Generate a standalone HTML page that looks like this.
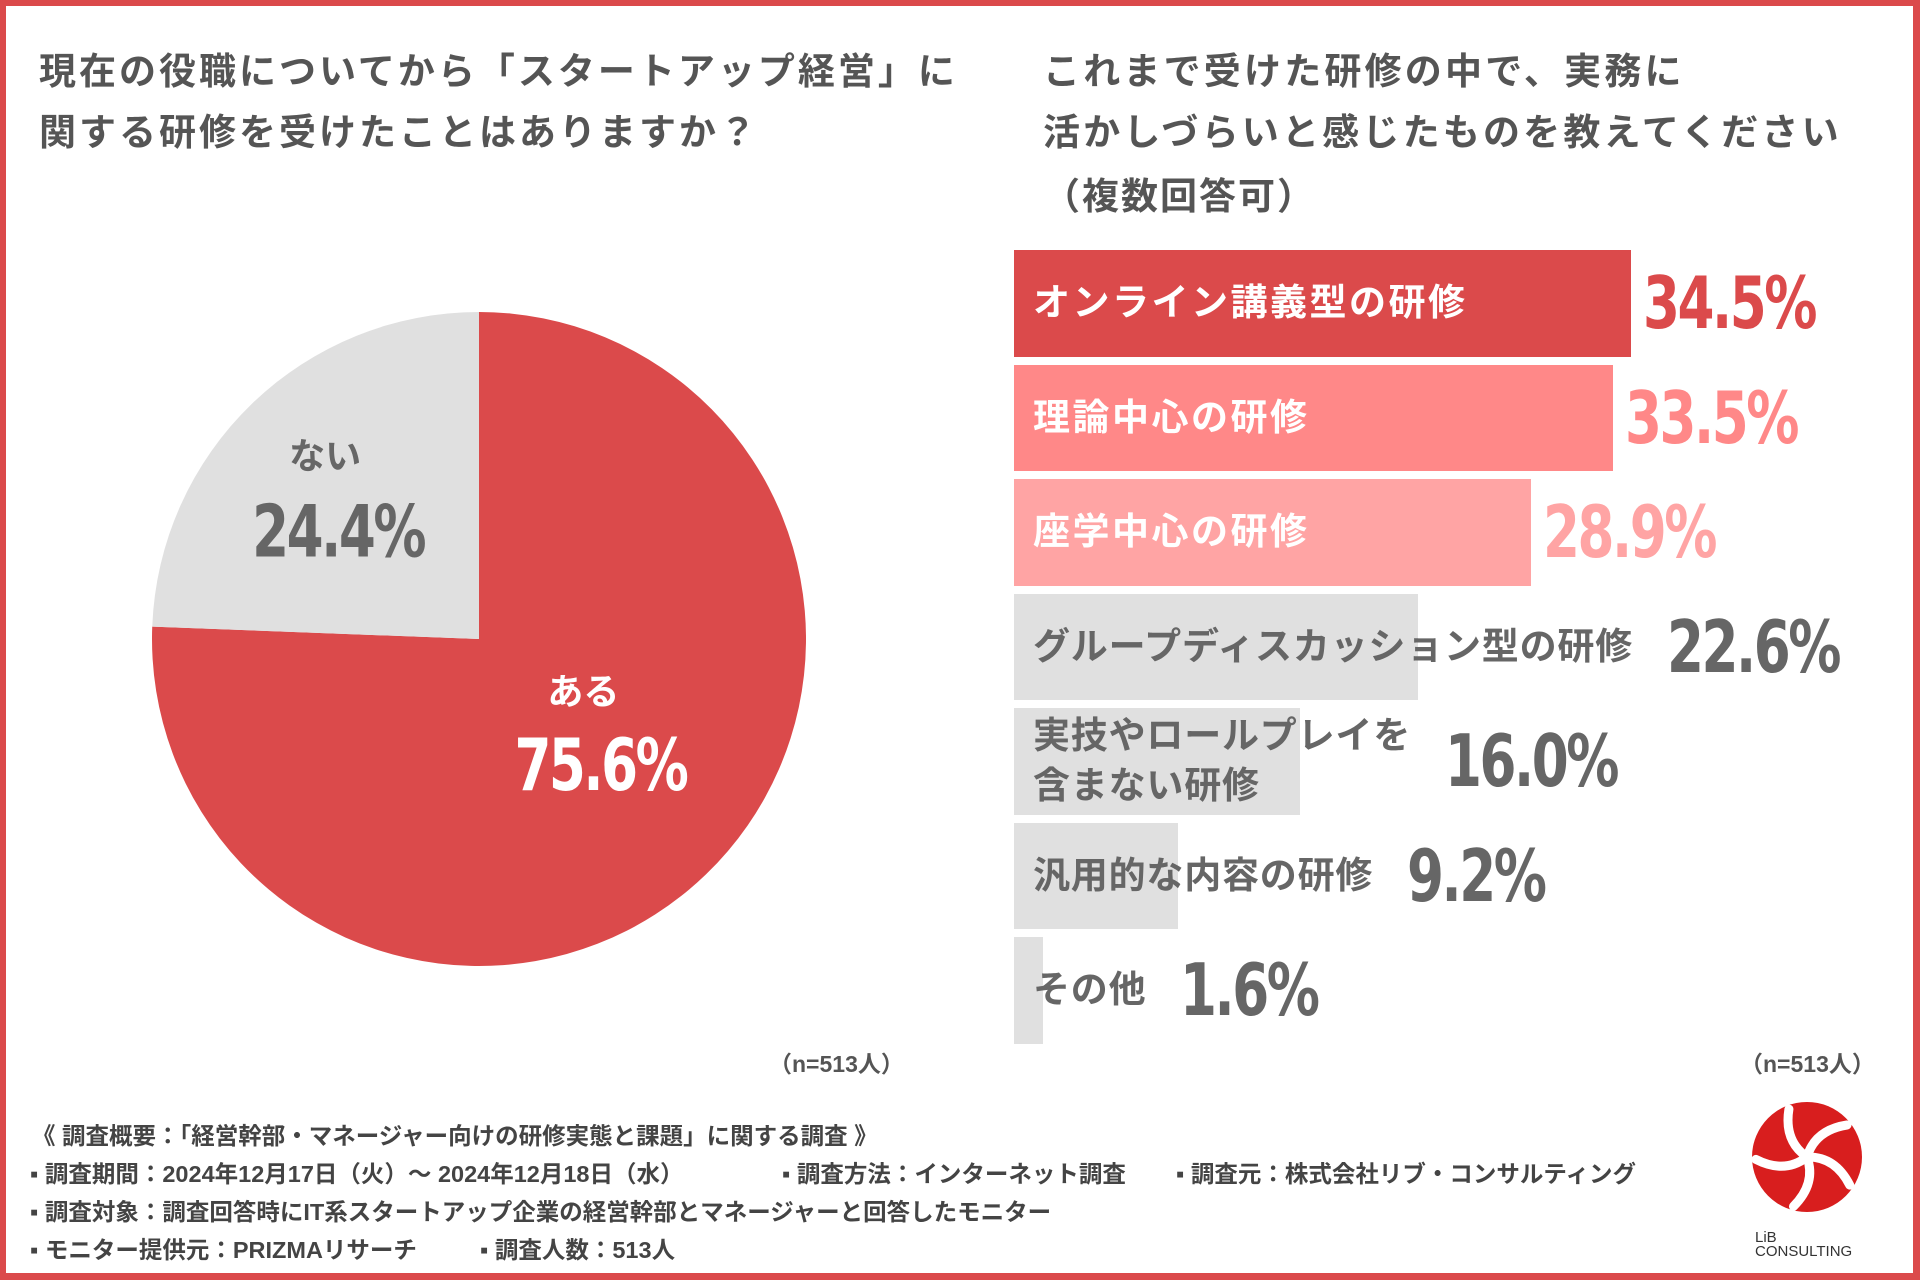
<!DOCTYPE html>
<html><head><meta charset="utf-8">
<style>
*{margin:0;padding:0;box-sizing:border-box}
body{width:1920px;height:1280px;position:relative;background:#fff;overflow:hidden;font-family:"Liberation Sans","Noto Sans CJK JP",sans-serif;font-weight:bold;color:#555}
#frame{position:absolute;left:0;top:0;width:1920px;height:1280px;border:6px solid #db4a4b;border-right-width:7px;border-bottom-width:7px;pointer-events:none}
.t{position:absolute;white-space:nowrap}
.title{font-size:37px;color:#555;line-height:1}
.num{font-family:"Liberation Sans Narrow","DejaVu Sans Condensed","Liberation Sans",sans-serif;font-weight:bold;letter-spacing:-3px;transform-origin:left center}
.foot{font-size:23.5px;color:#444;line-height:1}
.n{font-size:23px;color:#555}
</style></head>
<body>
<div class="t title" style="left:39px;top:53px;letter-spacing:3px">現在の役職についてから「スタートアップ経営」に</div>
<div class="t title" style="left:39px;top:114px;letter-spacing:3px">関する研修を受けたことはありますか？</div>
<div class="t title" style="left:1043px;top:53px;letter-spacing:3.2px">これまで受けた研修の中で、実務に</div>
<div class="t title" style="left:1043px;top:114px;letter-spacing:3.2px">活かしづらいと感じたものを教えてください</div>
<div class="t title" style="left:1043px;top:178px;letter-spacing:2px">（複数回答可）</div>

<svg id="pie" width="1920" height="1280" style="position:absolute;left:0;top:0"></svg>

<div id="bars" style="position:absolute;left:0;top:0;width:1920px;height:1280px"></div>

<div class="t n" style="left:769px;top:1045px">（n=513人）</div>
<div class="t n" style="left:1740px;top:1045px">（n=513人）</div>

<div class="t foot" style="left:32px;top:1125px">《 調査概要：「経営幹部・マネージャー向けの研修実態と課題」に関する調査 》</div>
<div class="t foot" style="left:30px;top:1163px">▪ 調査期間：2024年12月17日（火）～ 2024年12月18日（水）</div>
<div class="t foot" style="left:782px;top:1163px">▪ 調査方法：インターネット調査</div>
<div class="t foot" style="left:1176px;top:1163px">▪ 調査元：株式会社リブ・コンサルティング</div>
<div class="t foot" style="left:30px;top:1201px">▪ 調査対象：調査回答時にIT系スタートアップ企業の経営幹部とマネージャーと回答したモニター</div>
<div class="t foot" style="left:30px;top:1239px">▪ モニター提供元：PRIZMAリサーチ</div>
<div class="t foot" style="left:480px;top:1239px">▪ 調査人数：513人</div>

<svg width="140" height="190" style="position:absolute;left:1737px;top:1090px" viewBox="0 0 140 190">
  <circle cx="70" cy="67" r="55" fill="#d81e1e"/>
  <g fill="none" stroke="#fff" stroke-width="9" stroke-linecap="round">
    <path d="M70 67 Q78 40 110 35" transform="rotate(0 70 67)"/>
    <path d="M70 67 Q78 40 110 35" transform="rotate(72 70 67)"/>
    <path d="M70 67 Q78 40 110 35" transform="rotate(144 70 67)"/>
    <path d="M70 67 Q78 40 110 35" transform="rotate(216 70 67)"/>
    <path d="M70 67 Q78 40 110 35" transform="rotate(288 70 67)"/>
  </g>
  <text x="18" y="152" font-family="Liberation Sans,sans-serif" font-size="15" fill="#333" font-weight="normal">LiB</text>
  <text x="18" y="166" font-family="Liberation Sans,sans-serif" font-size="15" fill="#333" font-weight="normal">CONSULTING</text>
</svg>

<div id="frame"></div>

<script>
// Pie data
const pieLabels = ["ある", "ない"];
const pieValues = [75.6, 24.4];
// Bar data
const barCategories = ["オンライン講義型の研修", "理論中心の研修", "座学中心の研修", "グループディスカッション型の研修", "実技やロールプレイを\n含まない研修", "汎用的な内容の研修", "その他"];
const barValues = [34.5, 33.5, 28.9, 22.6, 16.0, 9.2, 1.6];

// ---- Pie ----
const NS = "http://www.w3.org/2000/svg";
const pie = document.getElementById('pie');
const cx = 479, cy = 639, R = 327;
const pieColors = ["#db4a4b", "#e0e0e0"];
const pieTextColors = ["#fff", "#666"];
const total = pieValues.reduce((a, b) => a + b, 0);
let start = 0;
function pt(frac) { const a = frac * 2 * Math.PI - Math.PI / 2; return [cx + R * Math.cos(a), cy + R * Math.sin(a)]; }
pieValues.forEach((v, i) => {
  const f = v / total;
  const p0 = pt(start), p1 = pt(start + f);
  const path = document.createElementNS(NS, 'path');
  path.setAttribute('d', `M${cx} ${cy} L${p0[0]} ${p0[1]} A${R} ${R} 0 ${f > 0.5 ? 1 : 0} 1 ${p1[0]} ${p1[1]} Z`);
  path.setAttribute('fill', pieColors[i]);
  
  
  pie.appendChild(path);
  const mid = start + f / 2;
  const a = mid * 2 * Math.PI - Math.PI / 2;
  const big = f > 0.5;
  const rr = big ? 0.5 * R : 0.63 * R;
  const lx = cx + rr * Math.cos(a), ly = cy + rr * Math.sin(a);
  const t1 = document.createElementNS(NS, 'text');
  t1.setAttribute('x', big ? lx - 9 : lx - 11); t1.setAttribute('y', big ? ly - 53 : ly - 22);
  t1.setAttribute('text-anchor', 'middle');
  t1.setAttribute('font-size', '36'); t1.setAttribute('font-weight', 'bold');
  t1.setAttribute('font-family', '"Liberation Sans","Noto Sans CJK JP",sans-serif');
  t1.setAttribute('fill', pieTextColors[i]);
  t1.textContent = pieLabels[i];
  
  
  pie.appendChild(t1);
  const nx = big ? lx + 8 : lx + 2, ny = big ? ly + 33 : ly + 66;
  const t2 = document.createElementNS(NS, 'text');
  t2.setAttribute('x', 0); t2.setAttribute('y', 0);
  t2.setAttribute('text-anchor', 'middle');
  t2.setAttribute('transform', `translate(${nx} ${ny}) scale(0.82 1)`);
  t2.setAttribute('font-size', '72'); t2.setAttribute('font-weight', 'bold');
  t2.setAttribute('letter-spacing', '-3');
  t2.setAttribute('font-family', '"Liberation Sans Narrow","DejaVu Sans Condensed","Liberation Sans",sans-serif');
  t2.setAttribute('fill', pieTextColors[i]);
  t2.textContent = v.toFixed(1) + '%';
  
  
  pie.appendChild(t2);
  start += f;
});

// ---- Bars ----
const bars = document.getElementById('bars');
const x0 = 1014, top0 = 250, pitch = 114.5, bh = 106.5, pxPer = 17.88;
const xs = v => v * pxPer;
const barFill = ["#db4a4b", "#ff8888", "#ffa4a4", "#e0e0e0", "#e0e0e0", "#e0e0e0", "#e0e0e0"];
const valColor = ["#db4a4b", "#ff8888", "#ffa4a4", "#666", "#666", "#666", "#666"];
barCategories.forEach((c, i) => {
  const y = top0 + i * pitch;
  const w = xs(barValues[i]);
  const b = document.createElement('div');
  b.style.cssText = `position:absolute;left:${x0}px;top:${y}px;width:${w}px;height:${bh}px;background:${barFill[i]}`;
  
  
  bars.appendChild(b);
  const lab = document.createElement('div');
  lab.className = 't';
  lab.style.cssText = `left:1033px;top:${y}px;height:${bh}px;display:flex;align-items:center;font-size:37px;line-height:1.35;letter-spacing:${i < 3 ? 2.5 : 0.8}px;color:${i < 3 ? '#fff' : '#666'};white-space:pre`;
  lab.textContent = c;
  
  
  bars.appendChild(lab);
  const labEnd = 1033 + lab.getBoundingClientRect().width;
  const vx = i < 3 ? x0 + w + 12 : Math.max(x0 + w, labEnd) + 34;
  const val = document.createElement('div');
  val.className = 't num';
  val.style.cssText += `left:${vx}px;top:${y}px;height:${bh}px;display:flex;align-items:center;font-size:72px;color:${valColor[i]};transform:scaleX(0.82)`;
  val.textContent = barValues[i].toFixed(1) + '%';
  
  
  bars.appendChild(val);
});
</script>
</body></html>
